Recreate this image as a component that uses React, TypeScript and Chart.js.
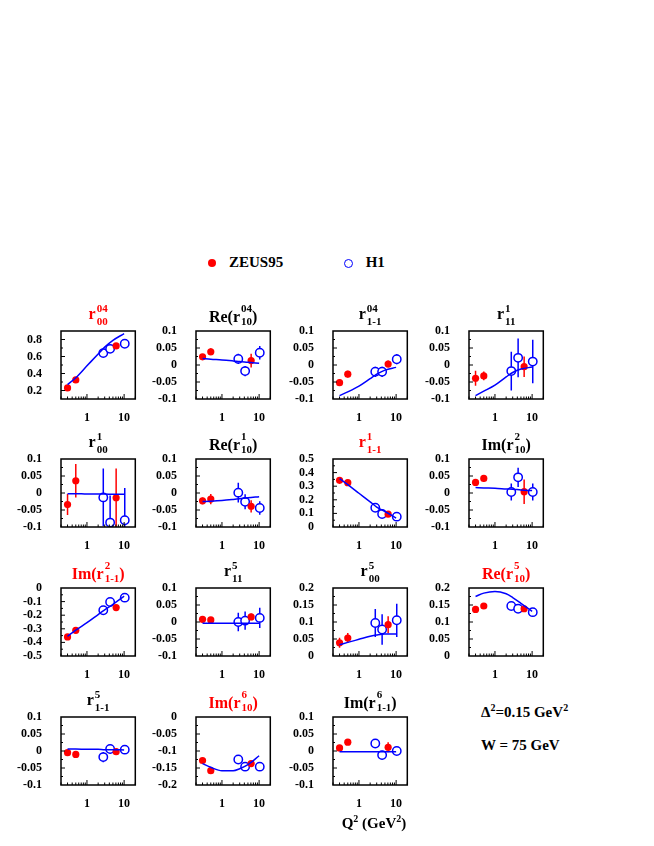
import React, { useEffect, useRef } from "react";
import { Chart, registerables } from "chart.js";

Chart.register(...registerables);

const FONT = "'Liberation Serif', 'Times New Roman', Times, serif";
const RED = "#ff0000";
const BLUE = "#0000ff";

// Q^2 (GeV^2) of the measurements and of the model curve
const zeusQ2 = [0.3, 0.5, 6.1];
const h1Q2 = [2.75, 4.2, 10.4];
const modelQ2 = [0.3, 0.5, 1, 2, 3, 5, 10];

// r^04_00
const r0400Zeus = [0.23, 0.325, 0.725];
const r0400ZeusErr = [0.01, 0.01, 0.015];
const r0400H1 = [0.64, 0.69, 0.75];
const r0400H1Err = [0.02, 0.02, 0.02];
const r0400Model = [0.27, 0.35, 0.49, 0.63, 0.71, 0.79, 0.87];

// Re(r^04_10)
const rer0410Zeus = [0.024, 0.039, 0.013];
const rer0410ZeusErr = [0.005, 0.01, 0.02];
const rer0410H1 = [0.018, -0.018, 0.036];
const rer0410H1Err = [0.015, 0.015, 0.02];
const rer0410Model = [0.019, 0.017, 0.015, 0.012, 0.01, 0.008, 0.005];

// r^04_1-1
const r041mZeus = [-0.052, -0.027, 0.003];
const r041mZeusErr = [0.01, 0.01, 0.01];
const r041mH1 = [-0.02, -0.02, 0.017];
const r041mH1Err = [0.015, 0.015, 0.015];
const r041mModel = [-0.09, -0.079, -0.062, -0.04, -0.027, -0.015, -0.007];

// r^1_11
const r111Zeus = [-0.039, -0.032, -0.005];
const r111ZeusErr = [0.022, 0.013, 0.03];
const r111H1 = [-0.018, 0.021, 0.01];
const r111H1Err = [0.057, 0.057, 0.064];
const r111Model = [-0.09, -0.077, -0.059, -0.035, -0.022, -0.012, -0.006];

// r^1_00
const r100Zeus = [-0.034, 0.036, -0.014];
const r100ZeusErr = [0.031, 0.049, 0.086];
const r100H1 = [-0.013, -0.087, -0.08];
const r100H1Err = [0.085, 0.08, 0.095];
const r100Model = [-0.002, -0.002, -0.003, -0.003, -0.003, -0.004, -0.004];

// Re(r^1_10)
const rer110Zeus = [-0.023, -0.018, -0.039];
const rer110ZeusErr = [0.01, 0.015, 0.018];
const rer110H1 = [0.001, -0.026, -0.044];
const rer110H1Err = [0.029, 0.022, 0.02];
const rer110Model = [-0.025, -0.024, -0.022, -0.019, -0.017, -0.014, -0.011];

// r^1_1-1
const r11mZeus = [0.343, 0.326, 0.094];
const r11mZeusErr = [0.01, 0.01, 0.01];
const r11mH1 = [0.142, 0.096, 0.076];
const r11mH1Err = [0.015, 0.012, 0.012];
const r11mModel = [0.356, 0.312, 0.248, 0.185, 0.147, 0.114, 0.066];

// Im(r^2_10)
const imr210Zeus = [0.031, 0.043, 0.004];
const imr210ZeusErr = [0.01, 0.01, 0.036];
const imr210H1 = [0.003, 0.046, 0.003];
const imr210H1Err = [0.025, 0.028, 0.025];
const imr210Model = [0.016, 0.015, 0.014, 0.012, 0.011, 0.009, 0.007];

// Im(r^2_1-1)
const imr21mZeus = [-0.36, -0.311, -0.144];
const imr21mZeusErr = [0.01, 0.02, 0.02];
const imr21mH1 = [-0.164, -0.103, -0.071];
const imr21mH1Err = [0.02, 0.02, 0.015];
const imr21mModel = [-0.355, -0.31, -0.255, -0.195, -0.16, -0.12, -0.06];

// r^5_11
const r511Zeus = [0.008, 0.006, 0.015];
const r511ZeusErr = [0.008, 0.006, 0.01];
const r511H1 = [0.0, 0.004, 0.012];
const r511H1Err = [0.027, 0.027, 0.03];
const r511Model = [-0.004, -0.004, -0.004, -0.004, -0.004, -0.004, -0.004];

// r^5_00
const r500Zeus = [0.039, 0.053, 0.092];
const r500ZeusErr = [0.015, 0.015, 0.025];
const r500H1 = [0.097, 0.078, 0.105];
const r500H1Err = [0.041, 0.045, 0.049];
const r500Model = [0.033, 0.04, 0.049, 0.058, 0.062, 0.065, 0.065];

// Re(r^5_10)
const rer510Zeus = [0.137, 0.147, 0.139];
const rer510ZeusErr = [0.01, 0.005, 0.008];
const rer510H1 = [0.147, 0.139, 0.129];
const rer510H1Err = [0.008, 0.008, 0.01];
const rer510Model = [0.175, 0.185, 0.19, 0.183, 0.172, 0.155, 0.131];

// r^5_1-1
const r51mZeus = [-0.005, -0.01, -0.002];
const r51mZeusErr = [0.005, 0.005, 0.005];
const r51mH1 = [-0.018, 0.006, 0.004];
const r51mH1Err = [0.015, 0.013, 0.013];
const r51mModel = [0.006, 0.006, 0.005, 0.005, 0.004, 0.004, 0.003];

// Im(r^6_10)
const imr610Zeus = [-0.128, -0.158, -0.137];
const imr610ZeusErr = [0.005, 0.005, 0.007];
const imr610H1 = [-0.125, -0.146, -0.146];
const imr610H1Err = [0.01, 0.012, 0.012];
const imr610Model = [-0.137, -0.148, -0.158, -0.158, -0.152, -0.14, -0.114];

// Im(r^6_1-1)
const imr61mZeus = [0.009, 0.026, 0.011];
const imr61mZeusErr = [0.005, 0.007, 0.015];
const imr61mH1 = [0.022, -0.012, 0.0];
const imr61mH1Err = [0.01, 0.013, 0.01];
const imr61mModel = [-0.002, -0.002, -0.002, -0.002, -0.002, -0.002, -0.002];

// y axis tick labels
const ticksPm01 = [-0.1, -0.05, 0, 0.05, 0.1];
const ticksR0400 = [0.2, 0.4, 0.6, 0.8];
const ticks0to05 = [0, 0.1, 0.2, 0.3, 0.4, 0.5];
const ticksM05to0 = [-0.5, -0.4, -0.3, -0.2, -0.1, 0];
const ticks0to02 = [0, 0.05, 0.1, 0.15, 0.2];
const ticksM02to0 = [-0.2, -0.15, -0.1, -0.05, 0];

type Title = { pre: string; sup: string; sub: string; post: string; color: string };
type PanelSpec = {
  title: Title;
  yMin: number;
  yMax: number;
  yTicks: number[];
  yMinor: number;
  zeus: number[];
  zeusErr: number[];
  h1: number[];
  h1Err: number[];
  model: number[];
};

const t = (pre: string, sup: string, sub: string, post: string, red = false): Title => ({
  pre, sup, sub, post, color: red ? RED : "#000",
});

const panels: PanelSpec[] = [
  { title: t("r", "04", "00", "", true), yMin: 0.1, yMax: 0.9, yTicks: ticksR0400, yMinor: 0.1,
    zeus: r0400Zeus, zeusErr: r0400ZeusErr, h1: r0400H1, h1Err: r0400H1Err, model: r0400Model },
  { title: t("Re(r", "04", "10", ")"), yMin: -0.1, yMax: 0.1, yTicks: ticksPm01, yMinor: 0.025,
    zeus: rer0410Zeus, zeusErr: rer0410ZeusErr, h1: rer0410H1, h1Err: rer0410H1Err, model: rer0410Model },
  { title: t("r", "04", "1-1", ""), yMin: -0.1, yMax: 0.1, yTicks: ticksPm01, yMinor: 0.025,
    zeus: r041mZeus, zeusErr: r041mZeusErr, h1: r041mH1, h1Err: r041mH1Err, model: r041mModel },
  { title: t("r", "1", "11", ""), yMin: -0.1, yMax: 0.1, yTicks: ticksPm01, yMinor: 0.025,
    zeus: r111Zeus, zeusErr: r111ZeusErr, h1: r111H1, h1Err: r111H1Err, model: r111Model },
  { title: t("r", "1", "00", ""), yMin: -0.1, yMax: 0.1, yTicks: ticksPm01, yMinor: 0.025,
    zeus: r100Zeus, zeusErr: r100ZeusErr, h1: r100H1, h1Err: r100H1Err, model: r100Model },
  { title: t("Re(r", "1", "10", ")"), yMin: -0.1, yMax: 0.1, yTicks: ticksPm01, yMinor: 0.025,
    zeus: rer110Zeus, zeusErr: rer110ZeusErr, h1: rer110H1, h1Err: rer110H1Err, model: rer110Model },
  { title: t("r", "1", "1-1", "", true), yMin: 0, yMax: 0.5, yTicks: ticks0to05, yMinor: 0.05,
    zeus: r11mZeus, zeusErr: r11mZeusErr, h1: r11mH1, h1Err: r11mH1Err, model: r11mModel },
  { title: t("Im(r", "2", "10", ")"), yMin: -0.1, yMax: 0.1, yTicks: ticksPm01, yMinor: 0.025,
    zeus: imr210Zeus, zeusErr: imr210ZeusErr, h1: imr210H1, h1Err: imr210H1Err, model: imr210Model },
  { title: t("Im(r", "2", "1-1", ")", true), yMin: -0.5, yMax: 0, yTicks: ticksM05to0, yMinor: 0.05,
    zeus: imr21mZeus, zeusErr: imr21mZeusErr, h1: imr21mH1, h1Err: imr21mH1Err, model: imr21mModel },
  { title: t("r", "5", "11", ""), yMin: -0.1, yMax: 0.1, yTicks: ticksPm01, yMinor: 0.025,
    zeus: r511Zeus, zeusErr: r511ZeusErr, h1: r511H1, h1Err: r511H1Err, model: r511Model },
  { title: t("r", "5", "00", ""), yMin: 0, yMax: 0.2, yTicks: ticks0to02, yMinor: 0.025,
    zeus: r500Zeus, zeusErr: r500ZeusErr, h1: r500H1, h1Err: r500H1Err, model: r500Model },
  { title: t("Re(r", "5", "10", ")", true), yMin: 0, yMax: 0.2, yTicks: ticks0to02, yMinor: 0.025,
    zeus: rer510Zeus, zeusErr: rer510ZeusErr, h1: rer510H1, h1Err: rer510H1Err, model: rer510Model },
  { title: t("r", "5", "1-1", ""), yMin: -0.1, yMax: 0.1, yTicks: ticksPm01, yMinor: 0.025,
    zeus: r51mZeus, zeusErr: r51mZeusErr, h1: r51mH1, h1Err: r51mH1Err, model: r51mModel },
  { title: t("Im(r", "6", "10", ")", true), yMin: -0.2, yMax: 0, yTicks: ticksM02to0, yMinor: 0.025,
    zeus: imr610Zeus, zeusErr: imr610ZeusErr, h1: imr610H1, h1Err: imr610H1Err, model: imr610Model },
  { title: t("Im(r", "6", "1-1", ")"), yMin: -0.1, yMax: 0.1, yTicks: ticksPm01, yMinor: 0.025,
    zeus: imr61mZeus, zeusErr: imr61mZeusErr, h1: imr61mH1, h1Err: imr61mH1Err, model: imr61mModel },
];

// frame geometry
const colX = [60.7, 196, 333.3, 469.3];
const rowY = [331, 459, 587.7, 717.3];
const BOX_W = 76;
const BOX_H = 68;
const PAD_L = 56;
const PAD_T = 44;
const PAD_R = 4;
const PAD_B = 28;
const X_MINOR = [0.2, 0.3, 0.4, 0.5, 0.6, 0.7, 0.8, 0.9, 2, 3, 4, 5, 6, 7, 8, 9, 20];

const fmt = (v: number) => String(parseFloat(v.toFixed(3)));

const Panel = ({ p, left, top }: { p: PanelSpec; left: number; top: number }) => {
  const canvasRef = useRef<HTMLCanvasElement>(null);

  useEffect(() => {
    const errs = [null, p.zeusErr, p.h1Err];
    const errColors = [BLUE, RED, BLUE];

    const decor = {
      id: "decor",
      beforeDatasetsDraw(chart: any) {
        const { ctx, chartArea: a } = chart;
        const xs = chart.scales.x;
        const ys = chart.scales.y;
        ctx.save();
        ctx.beginPath();
        ctx.rect(a.left, a.top, a.right - a.left, a.bottom - a.top);
        ctx.clip();
        ctx.lineWidth = 1.5;
        chart.data.datasets.forEach((ds: any, di: number) => {
          const e = errs[di];
          if (!e) return;
          ctx.strokeStyle = errColors[di];
          ds.data.forEach((pt: any, i: number) => {
            const px = xs.getPixelForValue(pt.x);
            ctx.beginPath();
            ctx.moveTo(px, ys.getPixelForValue(pt.y - e[i]));
            ctx.lineTo(px, ys.getPixelForValue(pt.y + e[i]));
            ctx.stroke();
          });
        });
        ctx.restore();
      },
      afterDraw(chart: any) {
        const { ctx, chartArea: a } = chart;
        const xs = chart.scales.x;
        const ys = chart.scales.y;
        ctx.save();
        ctx.strokeStyle = "#000";
        ctx.lineWidth = 1;
        ctx.beginPath();
        [1, 10].forEach((v) => {
          const px = xs.getPixelForValue(v);
          ctx.moveTo(px, a.bottom);
          ctx.lineTo(px, a.bottom - 5);
        });
        X_MINOR.forEach((v) => {
          const px = xs.getPixelForValue(v);
          ctx.moveTo(px, a.bottom);
          ctx.lineTo(px, a.bottom - 2.5);
        });
        const n = Math.round((p.yMax - p.yMin) / p.yMinor);
        for (let k = 1; k < n; k++) {
          const v = p.yMin + k * p.yMinor;
          const major = p.yTicks.some((tv) => Math.abs(tv - v) < 1e-9);
          const py = ys.getPixelForValue(v);
          ctx.moveTo(a.left, py);
          ctx.lineTo(a.left + (major ? 4 : 2), py);
        }
        ctx.stroke();
        ctx.lineWidth = 1.5;
        ctx.strokeRect(a.left, a.top, a.right - a.left, a.bottom - a.top);

        // title
        const tt = p.title;
        const big = `bold 16px ${FONT}`;
        const small = `bold 11px ${FONT}`;
        ctx.fillStyle = tt.color;
        ctx.textBaseline = "alphabetic";
        ctx.textAlign = "left";
        ctx.font = big;
        const wPre = ctx.measureText(tt.pre).width;
        const wPost = ctx.measureText(tt.post).width;
        ctx.font = small;
        const wScript = Math.max(ctx.measureText(tt.sup).width, ctx.measureText(tt.sub).width);
        const total = wPre + 1 + wScript + wPost;
        let x = (a.left + a.right) / 2 - total / 2;
        const mainBase = a.top - (tt.pre.length > 1 ? 9.5 : 12);
        ctx.font = big;
        ctx.fillText(tt.pre, x, mainBase);
        x += wPre + 1;
        ctx.font = small;
        ctx.fillText(tt.sup, x, a.top - 19);
        ctx.fillText(tt.sub, x, a.top - 6);
        x += wScript;
        ctx.font = big;
        ctx.fillText(tt.post, x, mainBase);
        ctx.restore();
      },
    };

    const tickFont = { family: FONT, size: 12, weight: "bold" as const };

    const chart = new Chart(canvasRef.current as HTMLCanvasElement, {
      type: "scatter",
      data: {
        datasets: [
          {
            data: modelQ2.map((q, i) => ({ x: q, y: p.model[i] })),
            showLine: true,
            borderColor: BLUE,
            borderWidth: 1.5,
            pointRadius: 0,
            cubicInterpolationMode: "monotone",
            fill: false,
          },
          {
            data: zeusQ2.map((q, i) => ({ x: q, y: p.zeus[i] })),
            pointRadius: 3.6,
            backgroundColor: RED,
            borderColor: RED,
            borderWidth: 0,
          },
          {
            data: h1Q2.map((q, i) => ({ x: q, y: p.h1[i] })),
            pointRadius: 4.2,
            backgroundColor: "#fff",
            borderColor: BLUE,
            borderWidth: 1.5,
          },
        ],
      },
      options: {
        responsive: false,
        animation: false,
        events: [],
        layout: { padding: { left: 0, top: PAD_T, right: PAD_R, bottom: 0 } },
        plugins: { legend: { display: false }, tooltip: { enabled: false } },
        scales: {
          x: {
            type: "logarithmic",
            min: 0.2,
            max: 20,
            grid: { display: false },
            border: { display: false },
            afterBuildTicks: (s: any) => {
              s.ticks = [{ value: 1 }, { value: 10 }];
            },
            afterFit: (s: any) => {
              s.height = PAD_B;
            },
            ticks: {
              autoSkip: false,
              maxRotation: 0,
              padding: 4,
              color: "#000",
              font: tickFont,
              callback: (v: any) => String(v),
            },
          },
          y: {
            min: p.yMin,
            max: p.yMax,
            grid: { display: false },
            border: { display: false },
            afterBuildTicks: (s: any) => {
              s.ticks = p.yTicks.map((v) => ({ value: v }));
            },
            afterFit: (s: any) => {
              s.width = PAD_L;
            },
            ticks: {
              autoSkip: false,
              padding: 11,
              color: "#000",
              font: tickFont,
              callback: (v: any) => fmt(Number(v)),
            },
          },
        },
      },
      plugins: [decor],
    } as any);

    return () => {
      chart.destroy();
    };
  }, [p]);

  const w = PAD_L + BOX_W + PAD_R;
  const h = PAD_T + BOX_H + PAD_B;
  return (
    <canvas
      ref={canvasRef}
      width={w}
      height={h}
      style={{ position: "absolute", left: left - PAD_L, top: top - PAD_T, width: w, height: h }}
    />
  );
};

const text = (left: number, baseline: number) => ({
  position: "absolute" as const,
  left,
  top: baseline - 12.6,
  fontFamily: FONT,
  fontWeight: "bold" as const,
  fontSize: 15,
  lineHeight: "15px",
  whiteSpace: "nowrap" as const,
  color: "#000",
});

const sup = { fontSize: 10, position: "relative" as const, top: -6 };

export default function App() {
  return (
    <div style={{ position: "absolute", left: 0, top: 0, width: 654, height: 846, background: "#fff" }}>
      {/* legend */}
      <div style={{ position: "absolute", left: 207.7, top: 259.3, width: 8, height: 8, borderRadius: "50%", background: RED }} />
      <div style={text(229, 268)}>ZEUS95</div>
      <div
        style={{
          position: "absolute", left: 343.8, top: 258.8, width: 9, height: 9, borderRadius: "50%",
          border: `1.5px solid ${BLUE}`, boxSizing: "border-box",
        }}
      />
      <div style={text(365.7, 268)}>H1</div>

      {panels.map((p, i) => (
        <Panel key={i} p={p} left={colX[i % 4]} top={rowY[Math.floor(i / 4)]} />
      ))}

      <div style={text(481, 717.3)}>
        Δ<span style={sup}>2</span>=0.15 GeV<span style={sup}>2</span>
      </div>
      <div style={text(481, 751)}>W = 75 GeV</div>
      <div style={text(341.7, 829)}>
        Q<span style={sup}>2</span> (GeV<span style={sup}>2</span>)
      </div>
    </div>
  );
}
